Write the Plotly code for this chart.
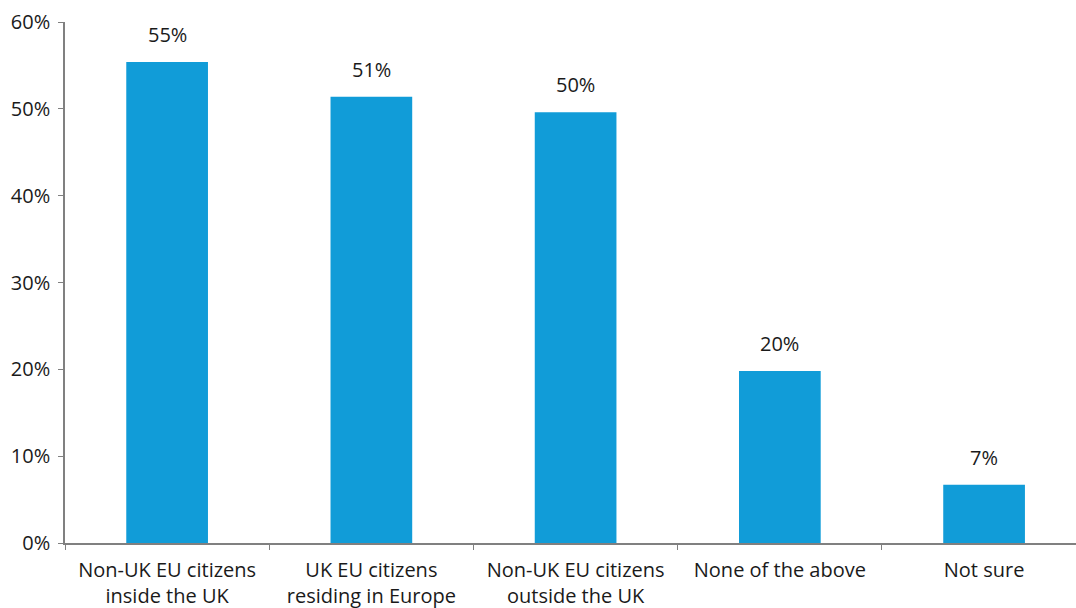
import plotly.graph_objects as go

categories = ["Non-UK EU citizens<br>inside the UK", "UK EU citizens<br>residing in Europe",
              "Non-UK EU citizens<br>outside the UK", "None of the above", "Not sure"]
values = [55.4, 51.4, 49.6, 19.8, 6.7]
labels = ["55%", "51%", "50%", "20%", "7%"]
tick_vals = [0, 10, 20, 30, 40, 50, 60]
tick_text = ["0%", "10%", "20%", "30%", "40%", "50%", "60%"]

FONT = "Open Sans"
fig = go.Figure(go.Bar(x=categories, y=values, marker_color="#119CD8", marker_line_width=0, width=0.4))

for c, v, t in zip(categories, values, labels):
    fig.add_annotation(x=c, y=v, text=t, showarrow=False, yanchor="bottom", yshift=12,
                       font=dict(family=FONT, size=20, color="#1a1a1a"))

fig.update_layout(
    width=1076, height=608,
    margin=dict(l=65, r=0, t=22, b=65),
    plot_bgcolor="white", paper_bgcolor="white",
    showlegend=False,
    font=dict(family=FONT, size=20, color="#1a1a1a"),
)
fig.update_xaxes(range=[-0.5, 4.45], showline=True, linecolor="#808080", linewidth=1.5,
                 tickson="boundaries", ticks="outside", ticklen=5, tickcolor="#808080",
                 ticklabelstandoff=8,
                 tickfont=dict(family=FONT, size=20, color="#1a1a1a"), showgrid=False)
fig.update_yaxes(range=[0, 60], tickvals=tick_vals, ticktext=tick_text, showline=True,
                 linecolor="#808080", linewidth=1.5, ticks="outside", ticklen=5, tickcolor="#808080",
                 showgrid=False, zeroline=False, ticklabelstandoff=4,
                 tickfont=dict(family=FONT, size=20, color="#1a1a1a"))

fig.write_html("out.html")
